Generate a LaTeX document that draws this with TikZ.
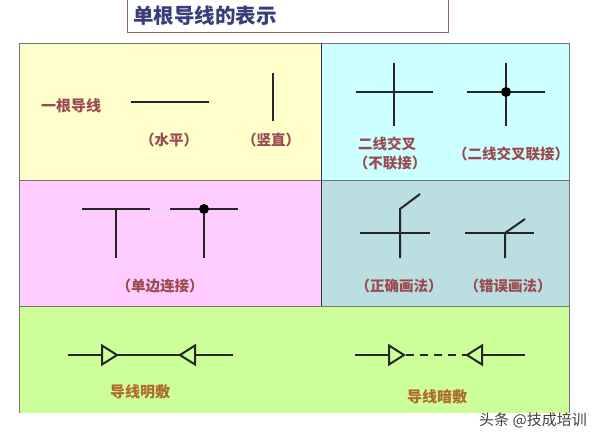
\documentclass[tikz,border=0pt]{standalone}
\usepackage{fontspec}
\setmainfont{Noto Sans CJK SC}
\usepackage{tikz}
\usetikzlibrary{positioning}
\definecolor{yellowbg}{HTML}{FFFFCC}
\definecolor{cyanbg}{HTML}{CCFFFF}
\definecolor{pinkbg}{HTML}{FFCCFF}
\definecolor{tealbg}{HTML}{BBDFE0}
\definecolor{greenbg}{HTML}{CCFF99}
\definecolor{titleblue}{HTML}{3A3D78}
\definecolor{lblred}{HTML}{9A4A50}
\definecolor{lblorange}{HTML}{B06A2A}
\begin{document}
\begin{tikzpicture}[x=1pt, y=-1pt,
  wire/.style={line width=2pt, black!85},
  lbl/.style={font=\fontsize{14.5}{16}\selectfont\bfseries, text=lblred, inner sep=0pt},
  wirelbl/.style={font=\fontsize{15}{17}\selectfont\bfseries, text=lblorange, inner sep=0pt},
  panel/.style={draw=black!55, line width=.8pt},
  joint/.style={circle, fill=black, inner sep=0pt, minimum size=10pt}]
\useasboundingbox (0,0) rectangle (601,440);
%title
\draw[black!60!magenta!80!white, line width=1pt] (127,0) -- (127,32) -- (448,32) -- (448,0);
\node[font=\fontsize{20.5}{24}\selectfont\bfseries, text=titleblue, inner sep=0pt] (title) at (205,16) {单根导线的表示};
%panels
\filldraw[panel, fill=yellowbg] (19,43) rectangle (321,180);
\filldraw[panel, fill=cyanbg] (321,43) rectangle (569,180);
\filldraw[panel, fill=pinkbg] (19,180) rectangle (321,306);
\filldraw[panel, fill=tealbg] (321,180) rectangle (569,306);
\fill[greenbg] (19,306) rectangle (569,413);
\draw[panel] (19,413) -- (19,306) -- (569,306) -- (569,413);
\draw[black!80, line width=.8pt] (321,43) -- (321,306);
%single wire
\node[lbl, font=\fontsize{15}{17}\selectfont\bfseries] (single) at (71,106) {一根导线};
\draw[wire] (131,102) -- (209,102);
\draw[wire] (272.5,73) -- (272.5,121);
\node[lbl] (horiz) at (169,140) {（水平）};
\node[lbl] (vert) at (271,140) {（竖直）};
%crossing
\draw[wire] (356,92) -- (433,92);
\draw[wire] (394,63) -- (394,126);
\draw[wire] (467,92) -- (545,92);
\draw[wire] (506,63) -- (506,126);
\node[joint] (dotcross) at (506,92) {};
\node[lbl] (cross) at (387,144) {二线交叉};
\node[lbl] (nolink) at (390,163) {（不联接）};
\node[lbl] (crosslink) at (511,154) {（二线交叉联接）};
%one side
\draw[wire] (82,209) -- (150,209);
\draw[wire] (116,209) -- (116,258);
\draw[wire] (170,209) -- (238,209);
\draw[wire] (204,209) -- (204,258);
\node[joint] (dottee) at (204,209) {};
\node[lbl] (tee) at (160,286) {（单边连接）};
%right and wrong
\draw[wire] (360,233) -- (430,233);
\draw[wire] (400,258) -- (400,209) -- (420,194);
\draw[wire] (465,233) -- (534,233);
\draw[wire] (505,258) -- (505,233) -- (525,219);
\node[lbl] (right) at (399,286) {（正确画法）};
\node[lbl] (wrong) at (508,286) {（错误画法）};
%surface and concealed
\draw[wire] (68,355) -- (233,355);
\draw[wire] (355,355) -- (389,355);
\draw[wire] (482,355) -- (525,355);
\draw[wire, dash pattern=on 8pt off 6pt] (406,355) -- (467,355);
\foreach \base/\tip in {102/117, 195/180, 389/404, 482/467}{
  \filldraw[wire, fill=greenbg, line join=miter] (\base,345.5) -- (\tip,355) -- (\base,364.5) -- cycle;
}
\node[wirelbl] (surface) at (140,392) {导线明敷};
\node[wirelbl] (hidden) at (437,397) {导线暗敷};
%watermark
\node[font=\fontsize{15}{16}\selectfont, text=black!75, inner sep=0pt] (mark) at (533,420) {头条 @技成培训};
\end{tikzpicture}
\end{document}
